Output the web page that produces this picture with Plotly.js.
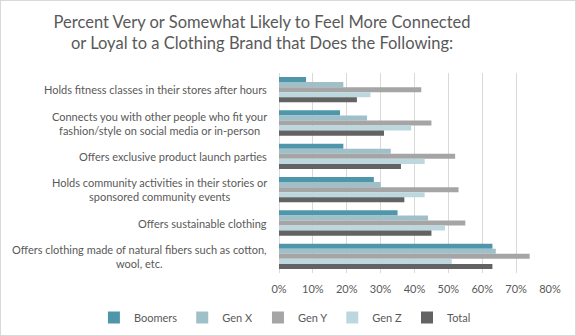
<!DOCTYPE html>
<html><head><meta charset="utf-8">
<script src="https://cdn.plot.ly/plotly-3.0.1.min.js"></script>
<style>
body{margin:0;padding:0;background:#fff;}
#wrap{position:relative;width:576px;height:336px;}
#chart{position:absolute;left:0;top:0;width:576px;height:336px;}
#frame{position:absolute;left:0;top:0;width:576px;height:336px;border:1px solid #d9d9d9;box-sizing:border-box;pointer-events:none;}
</style></head>
<body>
<div id="wrap"><div id="chart"></div><div id="frame"></div></div>
<script>
const categories = [
  "Holds fitness classes in their stores after hours",
  "Connects you with other people who fit your<br>fashion/style on social media or in-person",
  "Offers exclusive product launch parties",
  "Holds community activities in their stories or<br>sponsored community events",
  "Offers sustainable clothing",
  "Offers clothing made of natural fibers such as cotton,<br>wool, etc."
];
const seriesNames = ["Boomers", "Gen X", "Gen Y", "Gen Z", "Total"];
const boomers = [0.08, 0.18, 0.19, 0.28, 0.35, 0.63];
const genX    = [0.19, 0.26, 0.33, 0.30, 0.44, 0.64];
const genY    = [0.42, 0.45, 0.52, 0.53, 0.55, 0.74];
const genZ    = [0.27, 0.39, 0.43, 0.43, 0.49, 0.51];
const total   = [0.23, 0.31, 0.36, 0.37, 0.45, 0.63];
const colors  = ["#4f96ab", "#a0c0c9", "#a5a5a5", "#bcd8de", "#636363"];
const seriesValues = [boomers, genX, genY, genZ, total];
const tickVals = [0, 0.1, 0.2, 0.3, 0.4, 0.5, 0.6, 0.7, 0.8];
const tickText = ["0%", "10%", "20%", "30%", "40%", "50%", "60%", "70%", "80%"];

const font = "Lato, 'Open Sans', sans-serif";
const traces = seriesNames.map((n, i) => ({
  type: "bar", orientation: "h", name: n,
  x: seriesValues[i], y: categories,
  marker: {color: colors[i]}, hoverinfo: "none"
}));

const annotations = categories.map(c => ({
  text: c, xref: "paper", yref: "y", x: 0, y: c,
  xanchor: "right", yanchor: "middle", xshift: -10, align: "center",
  showarrow: false, font: {family: font, size: 11, color: "#595959"}
}));

const layout = {
  width: 576, height: 336,
  margin: {l: 279, r: 26, t: 73, b: 63, autoexpand: false},
  paper_bgcolor: "#fff", plot_bgcolor: "#fff",
  barmode: "group", bargap: 0.24, bargroupgap: 0,
  title: {text: "Percent Very or Somewhat Likely to Feel More Connected<br>or Loyal to a Clothing Brand that Does the Following:",
    xref: "container", x: 0.455, xanchor: "center", yref: "container", y: 0.918, yanchor: "bottom",
    font: {family: font, size: 16.5, color: "#595959"}},
  xaxis: {range: [0, 0.8], tickvals: tickVals, ticktext: tickText,
    showgrid: true, gridcolor: "#d9d9d9", gridwidth: 1, zeroline: true, zerolinecolor: "#d9d9d9",
    showline: false, ticks: "", ticklabelstandoff: 8, tickfont: {family: font, size: 11, color: "#595959"}, fixedrange: true},
  yaxis: {autorange: "reversed", showticklabels: false, showgrid: false, zeroline: false, ticks: "", fixedrange: true},
  showlegend: true,
  legend: {orientation: "h", xref: "paper", x: -0.683, xanchor: "left", yref: "paper", y: -0.15, yanchor: "top",
    font: {family: font, size: 11, color: "#595959"}, tracegroupgap: 0, traceorder: "normal", itemwidth: 30},
  annotations: annotations
};
Plotly.newPlot("chart", traces, layout, {displayModeBar: false, staticPlot: true});
</script>
</body></html>
